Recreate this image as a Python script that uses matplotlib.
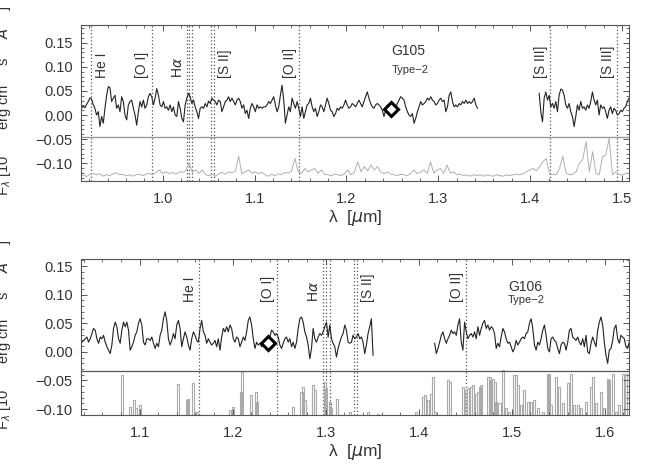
import matplotlib
matplotlib.use("Agg")
import matplotlib.pyplot as plt
from matplotlib.ticker import MultipleLocator
import numpy as np

plt.rcParams['font.family'] = ['Liberation Sans', 'DejaVu Sans']
plt.rcParams['text.color'] = '#333333'
plt.rcParams['axes.labelcolor'] = '#333333'
plt.rcParams['xtick.color'] = '#555555'
plt.rcParams['ytick.color'] = '#555555'
plt.rcParams['xtick.labelcolor'] = '#333333'
plt.rcParams['ytick.labelcolor'] = '#333333'

# ---------------- emission lines (rest wavelength, micron) ----------------
line_labels = ["He I", "[O I]", r"H$\alpha$", "[S II]", "[O II]", "[S III]", "[S III]"]
line_rest = [[0.5876], [0.6300], [0.6548, 0.6563, 0.6583], [0.6716, 0.6731],
             [0.7325], [0.9069], [0.9531]]

# ---------------- G105 ----------------
g105_z1 = 1.568
g105_seg1_range = (0.9098, 1.3427)
g105_seg1_flux = [
    0.017, 0.014, 0.019, 0.015, 0.022, 0.028, 0.036, 0.033, 0.021, 0.014,
    0.000, 0.007, -0.024, -0.003, -0.017, 0.014, 0.041, 0.059, 0.057, 0.028,
    0.035, 0.041, 0.014, 0.021, 0.007, 0.038, 0.028, 0.000, -0.010, 0.021,
    0.028, 0.031, 0.014, 0.000, -0.021, 0.007, 0.028, 0.017, 0.031, 0.014,
    0.021, 0.038, 0.045, 0.038, 0.021, 0.035, 0.055, 0.041, 0.021, 0.017,
    0.028, 0.014, 0.017, 0.010, 0.021, 0.007, 0.017, 0.000, -0.003, 0.028,
    0.014, -0.007, -0.014, 0.021, 0.035, 0.045, 0.038, 0.024, 0.031, 0.017,
    0.007, -0.007, 0.014, 0.017, 0.014, 0.024, 0.017, 0.029, 0.024, 0.035,
    0.031, 0.028, 0.021, 0.031, 0.028, 0.007, 0.017, 0.028, 0.031, 0.038,
    0.028, 0.035, 0.028, 0.021, 0.031, 0.035, 0.028, 0.014, 0.021, 0.003,
    0.010, -0.007, 0.014, 0.024, 0.017, 0.007, 0.021, 0.014, 0.017, 0.014,
    0.017,
    0.017, 0.021, 0.028, 0.024, 0.031, 0.038, 0.021, 0.007, 0.017, 0.041,
    0.062, 0.031, -0.017, 0.000, 0.017, 0.007, 0.035, 0.024, 0.014, 0.028,
    0.014, -0.003, 0.017, -0.007, 0.007, 0.021, 0.024, 0.035, 0.017, 0.007,
    0.014, -0.003, 0.007, 0.021, 0.017, 0.007, 0.021, 0.035, 0.024, 0.010,
    0.007, -0.003, 0.003, 0.014, 0.010, 0.017, 0.014, 0.021, 0.031, 0.021,
    0.014, 0.017, 0.024, 0.021, 0.017, 0.024, 0.031, 0.024, 0.017, 0.028,
    0.038, 0.048, 0.035, 0.024, 0.017, 0.014, 0.021, 0.024, 0.021, 0.017,
    0.010, -0.003, 0.010, 0.021, 0.017, 0.014, 0.010, 0.014, 0.014, 0.024,
    0.031, 0.038, 0.035, 0.031, 0.017, 0.007, 0.000, -0.003, 0.003, -0.017,
    -0.007, 0.007, 0.017, 0.028, 0.021, 0.024, 0.028, 0.035, 0.031, 0.038,
    0.031, 0.028, 0.021, 0.024, 0.031, 0.035, 0.028, 0.031,
    0.007, 0.017, 0.041, 0.048, 0.028, 0.017, 0.021, 0.017, 0.024, 0.021,
    0.028, 0.024, 0.031, 0.024, 0.028, 0.024, 0.028, 0.035, 0.021, 0.014,
]
g105_seg2_range = (1.4098, 1.5076)
g105_seg2_flux = [
    0.045, 0.007, -0.014, 0.035, 0.048, 0.031, 0.041, 0.017, 0.024, 0.014,
    0.028, 0.007, 0.041, 0.054, 0.052, 0.041, 0.021, 0.014, 0.024, 0.007,
    -0.003, -0.024, -0.003, 0.021, 0.010, 0.028, 0.014, 0.017, 0.010, 0.021,
    0.014, 0.028, 0.048, 0.031, 0.021, 0.031, 0.000, 0.021, 0.014, 0.017,
    0.007, -0.007, 0.010, 0.017, 0.003, 0.014, 0.010, 0.000, 0.003, 0.010,
    0.007, 0.014, 0.017, 0.028, 0.035,
]
g105_err_range = (0.9098, 1.5076)
g105_err = [
    -0.128, -0.124, -0.128, -0.123, -0.121, -0.124, -0.122, -0.127, -0.124, -0.126,
    -0.122, -0.120, -0.124, -0.123, -0.126, -0.124, -0.127, -0.124, -0.123, -0.126,
    -0.123, -0.121, -0.124, -0.119, -0.114, -0.121, -0.118, -0.122, -0.119, -0.123,
    -0.118, -0.119, -0.116, -0.100, -0.119, -0.114, -0.121, -0.114, -0.124, -0.126,
    -0.123, -0.127, -0.122, -0.119, -0.123, -0.118, -0.120, -0.116, -0.086, -0.122,
    -0.118, -0.114, -0.121, -0.118, -0.122, -0.119,
    -0.124, -0.127, -0.123, -0.126, -0.122, -0.124, -0.119, -0.121, -0.116, -0.090,
    -0.118, -0.121, -0.111, -0.118, -0.114, -0.111, -0.121, -0.114, -0.123, -0.124,
    -0.126, -0.123, -0.124, -0.126, -0.122, -0.114, -0.124, -0.119, -0.097, -0.118,
    -0.107, -0.116, -0.104, -0.114, -0.107, -0.119, -0.122, -0.118, -0.123, -0.124,
    -0.126, -0.123, -0.124, -0.126, -0.121, -0.114, -0.122, -0.118, -0.114, -0.121,
    -0.097, -0.121, -0.114, -0.111, -0.121,
    -0.104, -0.121, -0.118, -0.124, -0.123, -0.126, -0.124, -0.127, -0.124, -0.126,
    -0.124, -0.127, -0.124, -0.126, -0.127, -0.124, -0.126, -0.127, -0.124, -0.126,
    -0.124, -0.123, -0.124, -0.122, -0.118, -0.114, -0.111, -0.116, -0.107, -0.097,
    -0.090, -0.124, -0.123, -0.124, -0.111, -0.086, -0.121, -0.124, -0.123, -0.118,
    -0.100, -0.093, -0.055, -0.118, -0.076, -0.121, -0.124, -0.086, -0.083, -0.048,
    -0.124, -0.118, -0.124, -0.124, -0.121, -0.122,
]
g105_point = (1.249, 0.013)

# ---------------- G106 ----------------
g106_z1 = 1.981
g106_seg1_range = (1.0362, 1.3509)
g106_seg1_flux = [
    0.012, 0.017, 0.020, 0.023, 0.026, 0.017, 0.023, 0.032, 0.041, 0.038,
    0.023, 0.015, 0.026, 0.023, 0.029, 0.017, 0.009, 0.003, -0.003, 0.012,
    0.041, 0.052, 0.044, 0.023, 0.015, 0.038, 0.052, 0.044, 0.052, 0.038,
    0.003, 0.009, 0.017, 0.029, 0.035, 0.050, 0.058, 0.047, 0.017, 0.012,
    0.023, 0.023, 0.020, 0.026, 0.015, 0.006, 0.015, 0.009, 0.029, 0.038,
    0.058, 0.070, 0.055, 0.023, 0.012, 0.020, 0.032, 0.023, 0.047, 0.055,
    0.041, 0.009, 0.023, 0.035, 0.026, 0.012, 0.003, 0.023, 0.035, 0.029,
    0.020, 0.017, 0.041, 0.055, 0.035, 0.029, 0.015, 0.023, 0.017, 0.012,
    0.015, 0.020, 0.009, 0.023, 0.003, 0.026, 0.041, 0.035, 0.044, 0.035,
    0.047, 0.041, 0.023, 0.017, 0.026, 0.023, 0.009, 0.017, 0.026, 0.020,
    0.035, 0.055, 0.061, 0.047, 0.023, 0.006, 0.017, 0.012, 0.015, 0.009,
    0.012, 0.017,
    0.017, 0.006, 0.026, 0.038, 0.035, 0.029, 0.032, 0.026, 0.012, 0.006,
    0.015, 0.023, 0.026, 0.017, 0.023, 0.009, 0.017, 0.006, 0.017, 0.041,
    0.058, 0.061, 0.052, 0.035, 0.026, 0.012, -0.012, 0.006, 0.041, 0.023,
    0.017, 0.026, 0.032, 0.029, 0.035, 0.044, 0.052, 0.026, 0.047, 0.023,
    0.015, 0.009, -0.009, 0.006, 0.017, 0.026, 0.032, 0.047, 0.038, 0.017,
    0.015, 0.017, 0.029, 0.023, 0.026, 0.032, 0.023, 0.026, 0.017, -0.003,
    0.012, 0.032, 0.044, 0.058, -0.006,
]
g106_seg2_range = (1.4171, 1.6263)
g106_seg2_flux = [
    0.015, -0.003, 0.006, 0.017, 0.029, 0.035, 0.023,
    0.015, 0.023, 0.029, 0.038, 0.032, 0.035, 0.029, 0.047, 0.058, 0.017,
    0.003, 0.052, 0.035, 0.023, 0.029, 0.032, 0.026, 0.035, 0.023, 0.044,
    0.029, 0.041, 0.050, 0.055, 0.041, 0.047, 0.038, 0.044, 0.041, 0.032,
    0.006, 0.015, 0.009, 0.026, 0.041, 0.035, 0.023, 0.015, 0.017, 0.009,
    0.000, 0.006, 0.020, 0.012, 0.017, 0.023, 0.026, 0.023, 0.032, 0.035,
    0.050, 0.058, 0.041, 0.012, 0.003, 0.017, 0.012, 0.023, 0.038, 0.047,
    0.029, 0.006, 0.000, 0.023, 0.026, 0.020, 0.017, 0.006, -0.003, 0.012,
    0.017, 0.015, 0.003, 0.017, 0.038, 0.041, 0.026, 0.023, 0.020, 0.026,
    0.017, 0.012, 0.023, 0.009, 0.029, 0.000, -0.003, 0.015, 0.026, 0.017,
    0.009, 0.038, 0.052, 0.061, 0.047, 0.017, -0.006, -0.020, 0.003, 0.006,
    0.020, 0.041, 0.047, 0.023, 0.015, 0.029, 0.026, 0.023, 0.009, 0.006,
    0.017,
]
g106_err_wave = [
    1.0809, 1.0898, 1.0941, 1.0963, 1.1006, 1.1417, 1.1506, 1.1524, 1.1571, 1.1621,
    1.1971, 1.2007, 1.2089, 1.2104, 1.2197, 1.2250, 1.2265,
    1.2651, 1.2740, 1.2758, 1.2776, 1.2865, 1.2883, 1.2990, 1.3008, 1.3044, 1.3062,
    1.3123, 1.3259, 1.3455, 1.3563, 1.3974, 1.4046, 1.4063, 1.4099, 1.4135, 1.4153,
    1.4171, 1.4314, 1.4332, 1.4475, 1.4510, 1.4528, 1.4564, 1.4582, 1.4618, 1.4636,
    1.4654, 1.4671, 1.4743, 1.4761, 1.4779, 1.4797, 1.4815, 1.4832, 1.4868, 1.4904,
    1.4940, 1.4975, 1.5029, 1.5047, 1.5065, 1.5101, 1.5136, 1.5172, 1.5208, 1.5244,
    1.5279, 1.5333, 1.5387, 1.5405, 1.5422, 1.5476, 1.5512, 1.5548, 1.5601, 1.5637,
    1.5673, 1.5709, 1.5744, 1.5798, 1.5852, 1.5870, 1.5905, 1.5959, 1.5995, 1.6030,
    1.6048, 1.6084, 1.6120, 1.6156, 1.6192, 1.6227,
]
g106_err = [
    -0.041, -0.096, -0.085, -0.099, -0.093, -0.057, -0.085, -0.082, -0.055, -0.105,
    -0.102, -0.096, -0.070, -0.035, -0.076, -0.071, -0.087,
    -0.096, -0.070, -0.061, -0.085, -0.058, -0.067, -0.052, -0.064, -0.087, -0.099,
    -0.082, -0.105, -0.105, -0.108, -0.105, -0.079, -0.076, -0.085, -0.073, -0.044,
    -0.105, -0.050, -0.052, -0.061, -0.067, -0.064, -0.061, -0.058, -0.073, -0.070,
    -0.061, -0.058, -0.044, -0.044, -0.050, -0.047, -0.052, -0.087, -0.090, -0.032,
    -0.099, -0.105, -0.041, -0.041, -0.058, -0.093, -0.067, -0.087, -0.087, -0.085,
    -0.099, -0.105, -0.038, -0.038, -0.093, -0.044, -0.061, -0.090, -0.055, -0.038,
    -0.093, -0.093, -0.099, -0.087, -0.061, -0.044, -0.090, -0.070, -0.099, -0.047,
    -0.050, -0.038, -0.105, -0.093, -0.038, -0.038,
]
g106_point = (1.2375, 0.015)

W, H = 654, 467
fig = plt.figure(figsize=(W / 100, H / 100), dpi=100)


def setup_axes(ax, xlim, ylim, xmajor):
    ax.set_xlim(*xlim)
    ax.set_ylim(*ylim)
    ax.xaxis.set_major_locator(MultipleLocator(xmajor))
    ax.xaxis.set_minor_locator(MultipleLocator(0.02))
    ax.yaxis.set_major_locator(MultipleLocator(0.05))
    ax.yaxis.set_minor_locator(MultipleLocator(0.01))
    ax.tick_params(which='both', direction='in', top=True, right=True, labelsize=10.5)
    ax.tick_params(which='major', length=4.5, width=0.7)
    ax.tick_params(which='minor', length=2.2, width=0.6)
    ax.tick_params(axis='x', pad=8)
    ax.tick_params(axis='y', pad=6)
    ax.yaxis.set_major_formatter(plt.FuncFormatter(lambda v, p: f"{v:.2f}".replace('-', '\u2212')))
    ax.xaxis.set_major_formatter(plt.FuncFormatter(lambda v, p: f"{v:.1f}"))
    for s in ax.spines.values():
        s.set_color('#555555')
        s.set_linewidth(0.8)
    ax.set_xlabel('λ  [$\\mu$m]', fontsize=12.5, labelpad=1)


def draw_lines(ax, z1, label_y, sides, which):
    for k in which:
        obs = [r * z1 for r in line_rest[k]]
        for w in obs:
            ax.axvline(w, color='#555555', lw=0.9, ls=(0, (1, 1.8)), zorder=1)
        if sides[k] == 'r':
            ax.annotate(line_labels[k], (max(obs), label_y), xytext=(3, 0),
                        textcoords='offset points', rotation=90, ha='left', va='bottom',
                        fontsize=10, color='#333333')
        else:
            ax.annotate(line_labels[k], (min(obs), label_y), xytext=(-1.5, 0),
                        textcoords='offset points', rotation=90, ha='right', va='bottom',
                        fontsize=10, color='#333333')


# ---------------- top panel ----------------
ax1 = fig.add_axes([81 / W, 1 - 181 / H, 548 / W, 156 / H])
setup_axes(ax1, (0.911, 1.5076), (-0.137, 0.187), 0.1)
draw_lines(ax1, g105_z1, 0.077, ['r', 'l', 'l', 'r', 'l', 'l', 'l'], range(7))
ax1.axhline(-0.045, color='#999999', lw=1.0)
ax1.plot(np.linspace(*g105_err_range, len(g105_err)), g105_err, color='#b0b0b0', lw=0.7)
ax1.plot(np.linspace(*g105_seg1_range, len(g105_seg1_flux)), g105_seg1_flux, color='#222222', lw=0.8)
ax1.plot(np.linspace(*g105_seg2_range, len(g105_seg2_flux)), g105_seg2_flux, color='#222222', lw=0.8)
ax1.plot(*g105_point, marker='D', ms=7.5, mfc='white', mec='black', mew=2.2, zorder=5)
ax1.text(0.567, 0.833, 'G105', transform=ax1.transAxes, fontsize=10, va='center', ha='left')
ax1.text(0.567, 0.712, 'Type\u22122', transform=ax1.transAxes, fontsize=8, va='center', ha='left')

# ---------------- bottom panel ----------------
ax2 = fig.add_axes([81 / W, 1 - 415.3 / H, 548 / W, 156 / H])
setup_axes(ax2, (1.037, 1.626), (-0.111, 0.162), 0.1)
draw_lines(ax2, g106_z1, 0.087, ['l', 'l', 'l', 'r', 'l', 'l', 'l'], range(5))
ax2.axhline(-0.034, color='#555555', lw=0.9)
ax2.bar(g106_err_wave, [e + 0.13 for e in g106_err], bottom=-0.13, width=0.0022,
        facecolor='none', edgecolor='#aaaaaa', lw=0.8)
ax2.plot(np.linspace(*g106_seg1_range, len(g106_seg1_flux)), g106_seg1_flux, color='#222222', lw=0.8)
ax2.plot(np.linspace(*g106_seg2_range, len(g106_seg2_flux)), g106_seg2_flux, color='#222222', lw=0.8)
ax2.plot(*g106_point, marker='D', ms=7.5, mfc='white', mec='black', mew=2.2, zorder=5)
ax2.text(0.779, 0.822, 'G106', transform=ax2.transAxes, fontsize=10, va='center', ha='left')
ax2.text(0.779, 0.74, 'Type\u22122', transform=ax2.transAxes, fontsize=8, va='center', ha='left')

# y labels, partly cut at the left edge as in the original
ylab = r'F$_\lambda$ [10$^{-17}$ erg cm$^{-2}$ s$^{-1}$ $\AA^{-1}$]'
fig.text(13 / W, 1 - 101 / H, ylab, rotation=90, ha='right', va='center', fontsize=10.5)
fig.text(13 / W, 1 - 335 / H, ylab, rotation=90, ha='right', va='center', fontsize=10.5)

fig.savefig('out.png', dpi=100)
